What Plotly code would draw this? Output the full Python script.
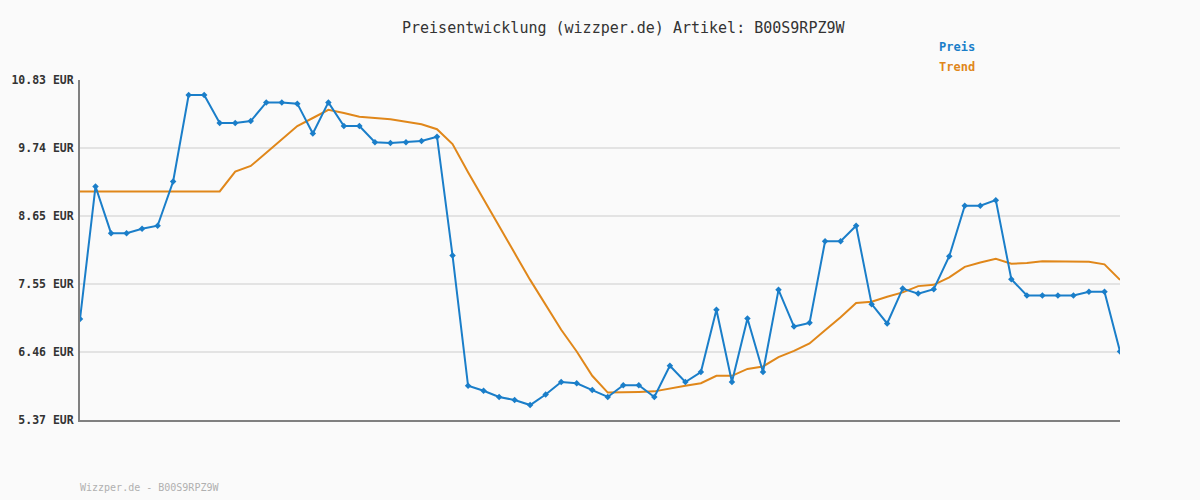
import plotly.graph_objects as go

preis = [6.99, 9.12, 8.37, 8.37, 8.44, 8.49, 9.20, 10.59, 10.59, 10.14,
         10.14, 10.17, 10.47, 10.47, 10.45, 9.97, 10.47, 10.09, 10.09, 9.83,
         9.82, 9.83, 9.85, 9.92, 8.01, 5.92, 5.84, 5.74, 5.69, 5.61,
         5.78, 5.98, 5.96, 5.85, 5.74, 5.93, 5.93, 5.74, 6.24, 5.98,
         6.14, 7.14, 5.98, 7.00, 6.14, 7.46, 6.87, 6.93, 8.24, 8.24,
         8.49, 7.23, 6.92, 7.48, 7.40, 7.47, 8.00, 8.81, 8.81, 8.90,
         7.63, 7.37, 7.37, 7.37, 7.37, 7.43, 7.43, 6.47]

trend = [9.04, 9.04, 9.04, 9.04, 9.04, 9.04, 9.04, 9.04, 9.04, 9.04,
         9.36, 9.45, 9.66, 9.88, 10.09, 10.22, 10.35, 10.30, 10.24, 10.22,
         10.20, 10.16, 10.12, 10.04, 9.80, 9.35, 8.91, 8.47, 8.05, 7.62,
         7.22, 6.82, 6.47, 6.08, 5.81, 5.81, 5.82, 5.83, 5.88, 5.92,
         5.96, 6.08, 6.08, 6.19, 6.23, 6.38, 6.48, 6.60, 6.81, 7.02,
         7.25, 7.27, 7.35, 7.42, 7.52, 7.54, 7.66, 7.83, 7.90, 7.96,
         7.88, 7.89, 7.92, 7.92, 7.92, 7.91, 7.87, 7.62]

y_ticks = [5.37, 6.46, 7.55, 8.65, 9.74, 10.83]
y_ticklabels = ["5.37 EUR", "6.46 EUR", "7.55 EUR", "8.65 EUR", "9.74 EUR", "10.83 EUR"]

title_text = "Preisentwicklung (wizzper.de) Artikel: B00S9RPZ9W"
footer_text = "Wizzper.de - B00S9RPZ9W"

BLUE = "#1a7ec9"
ORANGE = "#e0871a"
BG = "#fafafa"
MONO = "DejaVu Sans Mono, Liberation Mono, monospace"

x = list(range(len(preis)))

fig = go.Figure()
fig.add_trace(go.Scatter(
    x=x, y=trend, mode="lines", name="Trend",
    line=dict(color=ORANGE, width=2), showlegend=False,
))
fig.add_trace(go.Scatter(
    x=x, y=preis, mode="lines+markers", name="Preis",
    line=dict(color=BLUE, width=2),
    marker=dict(symbol="diamond", size=5, color=BLUE),
    showlegend=False,
))

fig.update_layout(
    width=1200, height=500,
    paper_bgcolor=BG, plot_bgcolor=BG,
    margin=dict(l=80, r=80, t=80, b=80, autoexpand=False),
    font=dict(family=MONO, color="#333333"),
    xaxis=dict(
        range=[0, len(preis) - 1], showgrid=False, showticklabels=False,
        zeroline=False, showline=True, linecolor="#808080", linewidth=2,
        ticks="", automargin=False,
    ),
    yaxis=dict(
        range=[5.37, 10.83], tickvals=y_ticks, ticktext=y_ticklabels,
        showgrid=True, gridcolor="#e3e3e3", gridwidth=2,
        zeroline=False, showline=True, linecolor="#808080", linewidth=2,
        tickfont=dict(family=MONO, size=11.5, color="#333333", weight="bold"),
        ticks="", ticklabelstandoff=2, automargin=False,
    ),
    annotations=[
        dict(text=title_text, xref="paper", yref="paper", x=0.523, y=1.0,
             xanchor="center", yanchor="middle", yshift=52, showarrow=False,
             font=dict(family=MONO, size=15, color="#333333")),
        dict(text="<b>Preis</b>", xref="paper", yref="paper", x=0.825, y=1.0,
             xanchor="left", yanchor="middle", yshift=33, xshift=-1, showarrow=False,
             font=dict(family=MONO, size=12, color=BLUE)),
        dict(text="<b>Trend</b>", xref="paper", yref="paper", x=0.825, y=1.0,
             xanchor="left", yanchor="middle", yshift=13, xshift=-1, showarrow=False,
             font=dict(family=MONO, size=12, color=ORANGE)),
        dict(text=footer_text, xref="paper", yref="paper", x=0.0, y=0.0,
             xanchor="left", yanchor="middle", yshift=-67, xshift=-2, showarrow=False,
             font=dict(family=MONO, size=10, color="#b0b0b0")),
    ],
)

fig.write_html(
    "out.html",
    config={"displayModeBar": False},
    post_script="document.body.style.margin='0';document.body.style.background='#fafafa';",
)
